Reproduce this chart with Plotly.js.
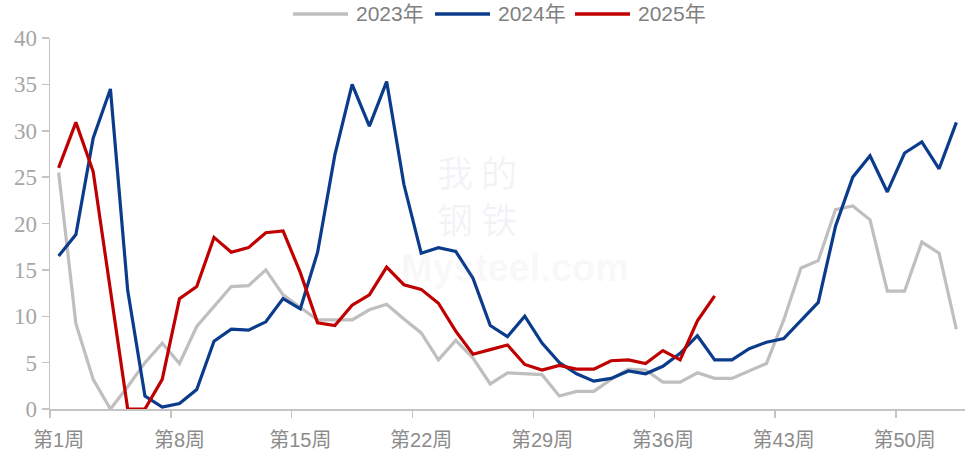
<!DOCTYPE html>
<html><head><meta charset="utf-8">
<script src="https://cdn.plot.ly/plotly-3.0.1.min.js"></script>
<style>html,body{margin:0;padding:0;background:#fff}#chart{width:965px;height:457px}</style>
</head><body><div id="chart"></div>
<script>
const weeks = [1,2,3,4,5,6,7,8,9,10,11,12,13,14,15,16,17,18,19,20,21,22,23,24,25,26,27,28,29,30,31,32,33,34,35,36,37,38,39,40,41,42,43,44,45,46,47,48,49,50,51,52,53];
const tickWeeks = [1,8,15,22,29,36,43,50];
const tickLabels = ['第1周','第8周','第15周','第22周','第29周','第36周','第43周','第50周'];
const seriesNames = ['2023年','2024年','2025年'];

const v2023 = [25.5,9.2,3.2,0,2.4,5.0,7.1,4.9,8.9,11.1,13.2,13.3,15.0,12.3,10.9,9.6,9.6,9.6,10.7,11.3,9.7,8.2,5.3,7.4,5.5,2.7,3.9,3.8,3.7,1.4,1.9,1.9,3.2,4.3,4.2,2.9,2.9,3.9,3.3,3.3,4.1,4.9,9.6,15.2,16.0,21.5,21.9,20.4,12.7,12.7,18.0,16.8,8.6];
const v2024 = [16.5,18.8,29.2,34.5,12.8,1.4,0.2,0.6,2.1,7.3,8.6,8.5,9.4,11.9,10.8,16.9,27.4,35.0,30.5,35.3,24.2,16.8,17.4,17.0,14.1,9.0,7.8,10.0,7.1,5.0,3.8,3.0,3.3,4.1,3.8,4.6,6.0,7.9,5.3,5.3,6.5,7.2,7.6,9.6,11.5,19.7,25.0,27.3,23.4,27.6,28.8,25.9,30.9];
const v2025 = [26.0,30.9,25.6,13.0,0,0,3.2,11.9,13.2,18.5,16.9,17.4,19.0,19.2,14.7,9.3,9.0,11.2,12.3,15.3,13.4,12.9,11.4,8.4,5.9,6.4,6.9,4.8,4.2,4.7,4.3,4.3,5.2,5.3,4.9,6.3,5.3,9.5,12.2];

const colors = ['#BFBFBF','#0B3C8C','#C00000'];
const allValues = [v2023, v2024, v2025];

const traces = allValues.map((vals, i) => ({
  type: 'scatter', mode: 'lines',
  x: weeks.slice(0, vals.length), y: vals,
  name: seriesNames[i],
  line: {color: colors[i], width: 3.2},
  showlegend: false,
  hoverinfo: 'x+y'
}));

const axisGray = '#C4C4C4';
const boundaries = tickWeeks.map(w => w - 0.5);

// legend drawn in pixel positions of the page (converted to paper units)
const W = 965, H = 457, mL = 50, mR = 0, mT = 38, mB = 48;
const pw = W - mL - mR, ph = H - mT - mB;
const px = x => (x - mL) / pw;
const py = y => (H - mB - y) / ph;
const legendLineStart = [293, 435, 575];
const legendY = 14;

const shapes = seriesNames.map((n, i) => ({
  type: 'line', xref: 'paper', yref: 'paper',
  x0: px(legendLineStart[i]), x1: px(legendLineStart[i] + 55),
  y0: py(legendY), y1: py(legendY),
  line: {color: colors[i], width: 3.5}
}));

const legendTexts = seriesNames.map((n, i) => ({
  text: n, xref: 'paper', yref: 'paper',
  x: px(legendLineStart[i] + 61), y: py(legendY),
  xanchor: 'left', yanchor: 'middle', showarrow: false,
  font: {family: 'Liberation Sans, Arial, "Noto Sans CJK SC", sans-serif', size: 21, color: '#808080'}
}));

const layout = {
  width: W, height: H,
  margin: {l: mL, r: mR, t: mT, b: mB},
  paper_bgcolor: '#fff', plot_bgcolor: '#fff',
  showlegend: false,
  xaxis: {
    range: [0.5, 53.5], showgrid: false, zeroline: false,
    showline: true, linecolor: axisGray, linewidth: 1.5,
    tickmode: 'array', tickvals: tickWeeks, ticktext: tickLabels,
    ticks: 'outside', ticklen: 12, tickcolor: 'rgba(0,0,0,0)',
    tickfont: {family: 'Liberation Sans, Arial, "Noto Sans CJK SC", sans-serif', size: 20, color: '#8C8C8C'},
    minor: {tickmode: 'array', tickvals: boundaries, ticks: 'outside', ticklen: 7, tickcolor: axisGray, tickwidth: 1.5, showgrid: false}
  },
  yaxis: {
    range: [0, 40], dtick: 5, showgrid: false, zeroline: false,
    showline: true, linecolor: axisGray, linewidth: 1.5,
    ticks: 'outside', ticklen: 7, tickcolor: axisGray, tickwidth: 1.5,
    tickfont: {family: '"Liberation Serif", "Times New Roman", serif', size: 23, color: '#A6A6A6'}
  },
  shapes: shapes,
  annotations: legendTexts.concat([
    {text: '<b>Mysteel.com</b>', xref: 'paper', yref: 'paper', x: px(515), y: py(268), showarrow: false,
     font: {family: 'Liberation Sans, Arial, sans-serif', size: 38, color: 'rgba(150,150,150,0.08)'}},
    {text: '我 的<br>钢 铁', xref: 'paper', yref: 'paper', x: px(477), y: py(194), showarrow: false,
     font: {family: '"Noto Sans CJK SC", sans-serif', size: 36, color: 'rgba(120,120,170,0.09)'}}
  ])
};

Plotly.newPlot('chart', traces, layout, {displayModeBar: false, staticPlot: true});
</script>
</body></html>
